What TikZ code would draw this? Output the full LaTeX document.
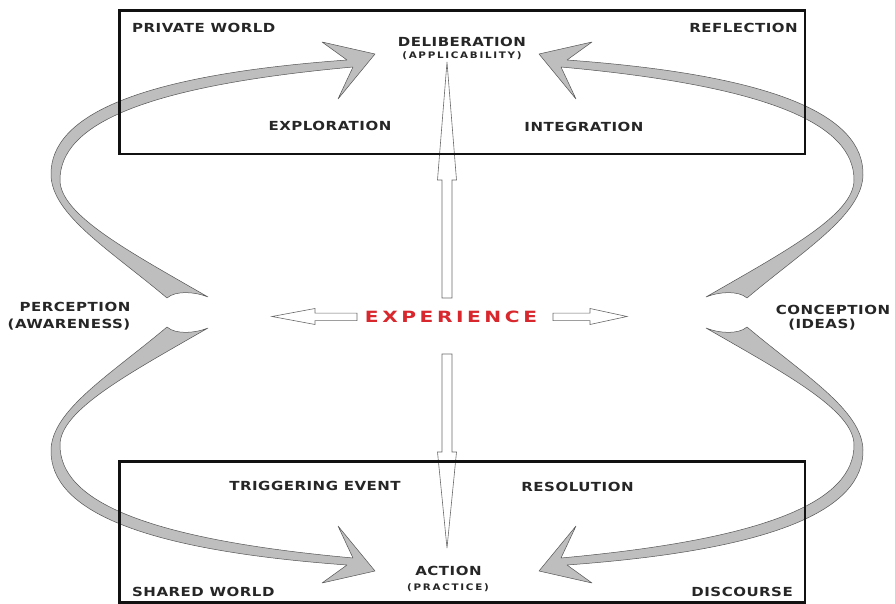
\documentclass[tikz,border=0pt]{standalone}
\usepackage{fontspec}
\newfontfamily\labfont[FakeStretch=1.2,LetterSpace=4]{DejaVu Sans Bold}
\newfontfamily\subfont[FakeStretch=1.15,LetterSpace=19]{DejaVu Sans Bold}
\newfontfamily\expfont[FakeStretch=1.3,LetterSpace=23]{DejaVu Sans Bold}
\definecolor{labgray}{HTML}{262626}
\definecolor{expred}{HTML}{D8282E}
\definecolor{bandgray}{HTML}{BEBEBE}
\definecolor{bandedge}{HTML}{555555}
\definecolor{arrowedge}{HTML}{6A6A6A}
\definecolor{framecol}{HTML}{111111}

% one swept loop arrow (upper-left copy); the others are mirrored
\newcommand\loopband{%
  \path[band] (167,298) .. controls (110,250) and (52,215) .. (51,175)
    .. controls (50,115) and (140,75) .. (347,60)
    -- (322,42) -- (375,54) -- (338,99) -- (353,67)
    .. controls (145,86) and (60,124) .. (60,180)
    .. controls (60,215) and (130,252) .. (208,297)
    .. controls (196,292) and (176,290) .. (167,298) -- cycle;}

\begin{document}
\begin{tikzpicture}[x=1pt,y=-1pt,
  lbl/.style={font=\labfont\fontsize{12.5}{12.5}\selectfont, text=labgray, inner sep=0pt},
  sublbl/.style={font=\subfont\fontsize{9}{9}\selectfont, text=labgray, inner sep=0pt},
  explbl/.style={font=\expfont\fontsize{15.5}{15.5}\selectfont, text=expred, inner sep=0pt},
  band/.style={fill=bandgray, draw=bandedge, line width=0.5pt, line join=round},
  blockarrow/.style={fill=white, draw=arrowedge, line width=0.6pt, line join=miter},
  frame/.style={draw=framecol, line width=2.6pt}]
\useasboundingbox (0,0) rectangle (895,604);
\fill[white] (0,0) rectangle (895,604);

% curved loop arrows
\begin{scope}\loopband\end{scope}
\begin{scope}[xshift=914pt, xscale=-1]\loopband\end{scope}
\begin{scope}[yshift=-625pt, yscale=-1]\loopband\end{scope}
\begin{scope}[xshift=914pt, yshift=-625pt, xscale=-1, yscale=-1]\loopband\end{scope}

% labels
\node[lbl, anchor=base west] (private) at (132,32.5) {PRIVATE WORLD};
\node[lbl, anchor=base east] (reflection) at (798,32.5) {REFLECTION};
\node[lbl, anchor=base] (delib) at (462,46.5) {DELIBERATION};
\node[sublbl, anchor=base] (applic) at (462,58.5) {(APPLICABILITY)};
\node[lbl, anchor=base] (explor) at (330,130.7) {EXPLORATION};
\node[lbl, anchor=base] (integr) at (584,131.5) {INTEGRATION};

\node[lbl, anchor=base] (percep) at (75,311.5) {PERCEPTION};
\node[lbl, anchor=base] (aware) at (69,328.3) {(AWARENESS)};
\node[lbl, anchor=base] (concep) at (833,314.3) {CONCEPTION};
\node[lbl, anchor=base] (ideas) at (822,328.3) {(IDEAS)};
\node[explbl, anchor=base] (exper) at (451,322.5) {EXPERIENCE};

\node[lbl, anchor=base] (trigger) at (315,490.7) {TRIGGERING EVENT};
\node[lbl, anchor=base] (resol) at (577.5,491.3) {RESOLUTION};
\node[lbl, anchor=base] (action) at (448.5,575.8) {ACTION};
\node[sublbl, anchor=base] (practice) at (448,590.5) {(PRACTICE)};
\node[lbl, anchor=base west] (shared) at (132,596.5) {SHARED WORLD};
\node[lbl, anchor=base east] (discourse) at (793,596.5) {DISCOURSE};

% outlined block arrows from the centre
\path[blockarrow] (442,298) -- (442,180) -- (437.5,180) -- (447,62)
  -- (456.5,180) -- (452,180) -- (452,298) -- cycle;
\path[blockarrow] (442,354) -- (442,452) -- (437.5,452) -- (447,548)
  -- (456.5,452) -- (452,452) -- (452,354) -- cycle;
\path[blockarrow] (357,313.2) -- (315,313.2) -- (315,308.5) -- (272,316.5)
  -- (315,324.5) -- (315,320.6) -- (357,320.6) -- cycle;
\path[blockarrow] (553,313.2) -- (590,313.2) -- (590,308.5) -- (627,316.5)
  -- (590,324.5) -- (590,320.6) -- (553,320.6) -- cycle;

% world frames
\draw[frame] (119.5,10.5) rectangle (805,154);
\draw[frame] (119.5,461.5) rectangle (805,602.5);
\end{tikzpicture}
\end{document}
